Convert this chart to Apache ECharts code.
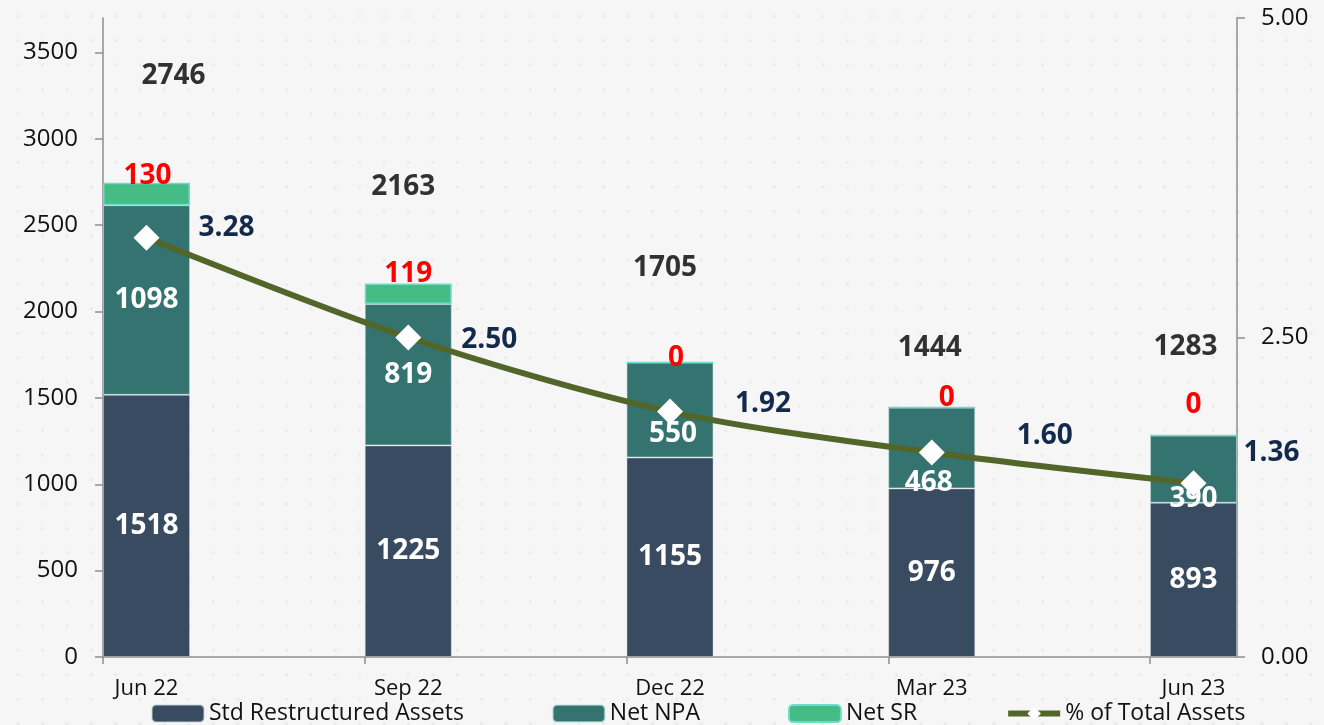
<!DOCTYPE html>
<html>
<head>
<meta charset="utf-8">
<title>Restructured Assets</title>
<script src="https://cdn.jsdelivr.net/npm/echarts@6/dist/echarts.min.js"></script>
<style>
  html, body { margin: 0; padding: 0; }
  #chart {
    width: 1324px; height: 725px;
    background-color: #f6f6f6;
    background-image: radial-gradient(circle, #ebebeb 1.3px, rgba(246,246,246,0) 1.8px);
    background-size: 24.4px 24.4px;
    background-position: 6px 4px;
  }
</style>
</head>
<body>
<div id="chart"></div>
<script>
// Quarterly figures
const categories = ['Jun 22', 'Sep 22', 'Dec 22', 'Mar 23', 'Jun 23'];
const stdRestructured = [1518, 1225, 1155, 976, 893];
const netNPA = [1098, 819, 550, 468, 390];
const netSR = [130, 119, 0, 0, 0];
const pctOfTotalAssets = [3.28, 2.50, 1.92, 1.60, 1.36];
const leftTicks = [0, 500, 1000, 1500, 2000, 2500, 3000, 3500];
const rightTicks = [0, 2.5, 5];

// Hand-placed label nudges [dx, dy] in pixels
const totalNudge = [[27, -107], [-5, -96], [-5, -95], [-2, -60], [-8, -88]];
const srNudge = [[1, -18], [0, -20], [6, -5], [15, -10], [0, -30]];
const npaNudge = [[0, 0], [0, 0], [3, 24], [-3, 35], [0, 30]];
const pctNudge = [[80, -10], [81, 3], [93, -8], [113, -16], [78, -30]];

const totals = categories.map((_, i) => stdRestructured[i] + netNPA[i] + netSR[i]);

const LEFT_MAX = 3700;
const RIGHT_MAX = 5;
const BAR_W = 87;
// frame runs from x=103 to x=1237; bar centres sit half a bar in from each end
const FRAME = { left: 103, right: 87, top: 18, bottom: 68 };
const PLOT = { left: FRAME.left + BAR_W / 2, right: FRAME.right + BAR_W / 2, top: 18, bottom: 68 };
const PAD = (BAR_W / 2) / ((1324 - PLOT.left - PLOT.right) / (categories.length - 1));
const FONT = 'Open Sans';

const chart = echarts.init(document.getElementById('chart'), null, { renderer: 'canvas' });

const boldLabel = (color) => ({
  show: true,
  position: 'inside',
  color: color,
  fontFamily: FONT,
  fontWeight: 'bold',
  fontSize: 28
});

const withNudge = (arr, nudge) => arr.map((v, i) => {
  const item = { value: v };
  if (nudge) item.label = { offset: nudge[i] };
  return item;
});

const axisLineStyle = { color: '#8e8e8e', width: 1.5 };
const axisText = { fontFamily: FONT, fontSize: 22, color: '#111' };
const valueText = { fontFamily: FONT, fontSize: 24, color: '#111' };
const hiddenAxis = {
  axisLine: { show: false }, axisTick: { show: false },
  axisLabel: { show: false }, splitLine: { show: false }
};

chart.setOption({
  backgroundColor: 'transparent',
  animation: false,
  grid: [
    Object.assign({ containLabel: false }, PLOT),
    Object.assign({ containLabel: false }, FRAME)
  ],
  legend: {
    left: 146,
    top: 697,
    itemWidth: 52,
    itemHeight: 17,
    itemGap: 88,
    lineStyle: { width: 6 },
    data: ['Std Restructured Assets', 'Net NPA', 'Net SR', '% of Total Assets'],
    textStyle: { fontFamily: FONT, fontSize: 23, color: '#111' }
  },
  xAxis: [
    {
      // category positions for the marks and their labels
      type: 'category',
      gridIndex: 0,
      data: categories,
      boundaryGap: false,
      axisLine: { show: false },
      axisTick: { show: false },
      splitLine: { show: false },
      axisLabel: Object.assign({ margin: 21, interval: 0 }, axisText)
    },
    {
      // frame axis: line and tick marks at the bar edges
      type: 'value',
      gridIndex: 1,
      min: -PAD,
      max: categories.length - 1 + PAD,
      splitLine: { show: false },
      axisLabel: { show: false },
      axisLine: { show: true, onZero: false, lineStyle: axisLineStyle },
      axisTick: {
        show: true, length: 7, lineStyle: axisLineStyle,
        customValues: categories.map((_, i) => i - PAD)
      }
    }
  ],
  yAxis: [
    Object.assign({ type: 'value', gridIndex: 0, min: 0, max: LEFT_MAX }, hiddenAxis),
    Object.assign({ type: 'value', gridIndex: 0, min: 0, max: RIGHT_MAX, position: 'right' }, hiddenAxis),
    {
      type: 'value',
      gridIndex: 1,
      min: 0,
      max: LEFT_MAX,
      splitLine: { show: false },
      axisLine: { show: true, onZero: false, lineStyle: axisLineStyle },
      axisTick: { show: true, length: 8, lineStyle: axisLineStyle, customValues: leftTicks },
      axisLabel: Object.assign({
        customValues: leftTicks,
        formatter: (v) => String(v),
        margin: 25
      }, valueText)
    },
    {
      type: 'value',
      gridIndex: 1,
      position: 'right',
      min: 0,
      max: RIGHT_MAX,
      splitLine: { show: false },
      axisLine: { show: true, onZero: false, lineStyle: axisLineStyle },
      axisTick: { show: true, length: 8, lineStyle: axisLineStyle, customValues: rightTicks },
      axisLabel: Object.assign({
        customValues: rightTicks,
        formatter: (v) => v.toFixed(2),
        margin: 24
      }, valueText)
    }
  ],
  series: [
    {
      name: 'Std Restructured Assets',
      type: 'bar',
      xAxisIndex: 0, yAxisIndex: 0,
      stack: 'assets',
      barWidth: BAR_W,
      clip: false,
      itemStyle: { color: '#384b60', borderColor: 'rgba(200,210,215,0.45)', borderWidth: 1 },
      label: boldLabel('#ffffff'),
      data: withNudge(stdRestructured)
    },
    {
      name: 'Net NPA',
      type: 'bar',
      xAxisIndex: 0, yAxisIndex: 0,
      stack: 'assets',
      barWidth: BAR_W,
      clip: false,
      itemStyle: { color: '#357371', borderColor: 'rgba(200,225,222,0.55)', borderWidth: 1 },
      label: boldLabel('#ffffff'),
      data: withNudge(netNPA, npaNudge)
    },
    {
      name: 'Net SR',
      type: 'bar',
      xAxisIndex: 0, yAxisIndex: 0,
      stack: 'assets',
      barWidth: BAR_W,
      clip: false,
      itemStyle: { color: '#45bb85', borderColor: '#6fdcc9', borderWidth: 1.5 },
      label: boldLabel('#ff0000'),
      data: withNudge(netSR, srNudge)
    },
    {
      name: 'Total',
      type: 'scatter',
      xAxisIndex: 0, yAxisIndex: 0,
      symbolSize: 1,
      itemStyle: { color: 'rgba(0,0,0,0)' },
      label: boldLabel('#000000'),
      data: withNudge(totals, totalNudge),
      z: 5
    },
    {
      name: '% of Total Assets',
      type: 'line',
      xAxisIndex: 0, yAxisIndex: 1,
      smooth: 0.3,
      symbol: 'diamond',
      symbolSize: 26,
      lineStyle: { color: '#526629', width: 6 },
      itemStyle: { color: '#ffffff', borderColor: '#ffffff', borderWidth: 0 },
      label: Object.assign(boldLabel('#142a4b'), {
        formatter: (p) => Number(p.value).toFixed(2)
      }),
      data: withNudge(pctOfTotalAssets, pctNudge),
      z: 4
    }
  ]
});
</script>
</body>
</html>
